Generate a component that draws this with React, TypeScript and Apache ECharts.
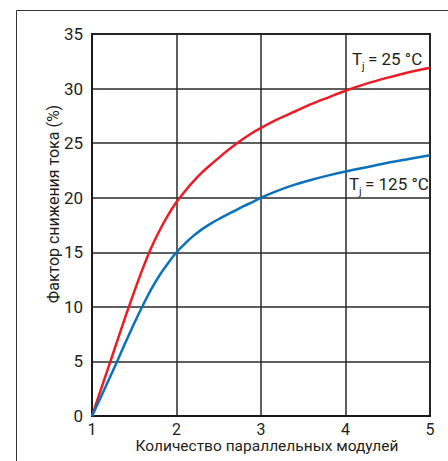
import React, { useEffect, useRef } from "react";
import * as echarts from "echarts";

const xTicks = [1, 2, 3, 4, 5];
const yTicks = [0, 5, 10, 15, 20, 25, 30, 35];

const xs = [
  1, 1.1, 1.2, 1.3, 1.4, 1.5, 1.6, 1.7, 1.8, 1.9, 2, 2.1, 2.2, 2.3, 2.4, 2.5, 2.6, 2.7, 2.8, 2.9, 3,
  3.2, 3.4, 3.6, 3.8, 4, 4.25, 4.5, 4.75, 5,
];
const red25 = [
  0, 2.3, 4.6, 6.9, 9.2, 11.4, 13.5, 15.4, 17.0, 18.4, 19.6, 20.6, 21.5, 22.3, 23.0, 23.65, 24.3, 24.9, 25.45, 25.95, 26.4,
  27.2, 27.9, 28.6, 29.2, 29.8, 30.45, 31.0, 31.5, 31.9,
];
const blue125 = [
  0, 1.65, 3.35, 5.05, 6.8, 8.5, 10.1, 11.6, 12.9, 14.0, 15.0, 15.8, 16.5, 17.1, 17.6, 18.05, 18.45, 18.85, 19.25, 19.6, 20.0,
  20.65, 21.2, 21.65, 22.05, 22.4, 22.8, 23.2, 23.55, 23.9,
];

const seriesNames = ["25", "125"];
const yName = "Фактор снижения тока (%)";
const xName = "Количество параллельных модулей";

const FONT = "Roboto, 'Liberation Sans', sans-serif";

export default function App() {
  const ref = useRef<HTMLDivElement>(null);
  useEffect(() => {
    if (!ref.current) return;
    const chart = echarts.init(ref.current, null, { renderer: "svg" });
    const mkLabel = (x: number, y: number, rest: string) => ({
      type: "group",
      x,
      y,
      children: [
        { type: "text", x: 0, y: 0, style: { text: "T", font: `17px ${FONT}`, fill: "#231f20", textVerticalAlign: "middle" } },
        { type: "text", x: 10, y: 7, style: { text: "j", font: `11px ${FONT}`, fill: "#231f20", textVerticalAlign: "middle" } },
        { type: "text", x: 16, y: 0, style: { text: rest, font: `17px ${FONT}`, fill: "#231f20", textVerticalAlign: "middle" } },
      ],
    });
    chart.setOption({
      animation: false,
      backgroundColor: "#ffffff",
      grid: {
        left: 92,
        top: 34,
        width: 338,
        height: 382,
        show: true,
        borderColor: "#1a1a1a",
        borderWidth: 2,
        containLabel: false,
      },
      xAxis: {
        type: "value",
        min: xTicks[0],
        max: xTicks[xTicks.length - 1],
        interval: 1,
        axisLine: { show: true, lineStyle: { color: "#1a1a1a", width: 2 } },
        axisTick: { show: false },
        axisLabel: { fontFamily: FONT, fontSize: 16, color: "#231f20", margin: 5, lineHeight: 16 },
        splitLine: { show: true, lineStyle: { color: "#2a2a2a", width: 1.5 } },
      },
      yAxis: {
        type: "value",
        min: yTicks[0],
        max: yTicks[yTicks.length - 1],
        interval: 5,
        axisLine: { show: true, lineStyle: { color: "#1a1a1a", width: 2 } },
        axisTick: { show: false },
        axisLabel: { fontFamily: FONT, fontSize: 17, color: "#231f20", margin: 9 },
        splitLine: { show: true, lineStyle: { color: "#2a2a2a", width: 1.5 } },
      },
      series: [
        {
          name: seriesNames[0],
          type: "line",
          smooth: 0.25,
          showSymbol: false,
          lineStyle: { color: "#ec1c24", width: 2.5 },
          data: xs.map((x, i) => [x, red25[i]]),
          z: 3,
        },
        {
          name: seriesNames[1],
          type: "line",
          smooth: 0.25,
          showSymbol: false,
          lineStyle: { color: "#0a72ba", width: 2.5 },
          data: xs.map((x, i) => [x, blue125[i]]),
          z: 3,
        },
      ],
      graphic: [
        {
          type: "polyline",
          shape: { points: [[16.5, 461], [16.5, 10.5], [448, 10.5]] },
          style: { stroke: "#333", lineWidth: 1, fill: null },
          silent: true,
        },
        {
          type: "text",
          x: 53,
          y: 204,
          rotation: Math.PI / 2,
          style: { text: yName, font: `16px ${FONT}`, fill: "#231f20", textAlign: "center", textVerticalAlign: "middle" },
        },
        {
          type: "text",
          x: 267,
          y: 446,
          style: { text: xName, font: `15.5px ${FONT}`, fill: "#231f20", textAlign: "center", textVerticalAlign: "middle" },
        },
        mkLabel(352, 59, "= 25 °C"),
        mkLabel(349, 184, "= 125 °C"),
      ],
    });
    return () => chart.dispose();
  }, []);
  return <div ref={ref} style={{ width: 448, height: 461, position: "absolute", left: 0, top: 0 }} />;
}
